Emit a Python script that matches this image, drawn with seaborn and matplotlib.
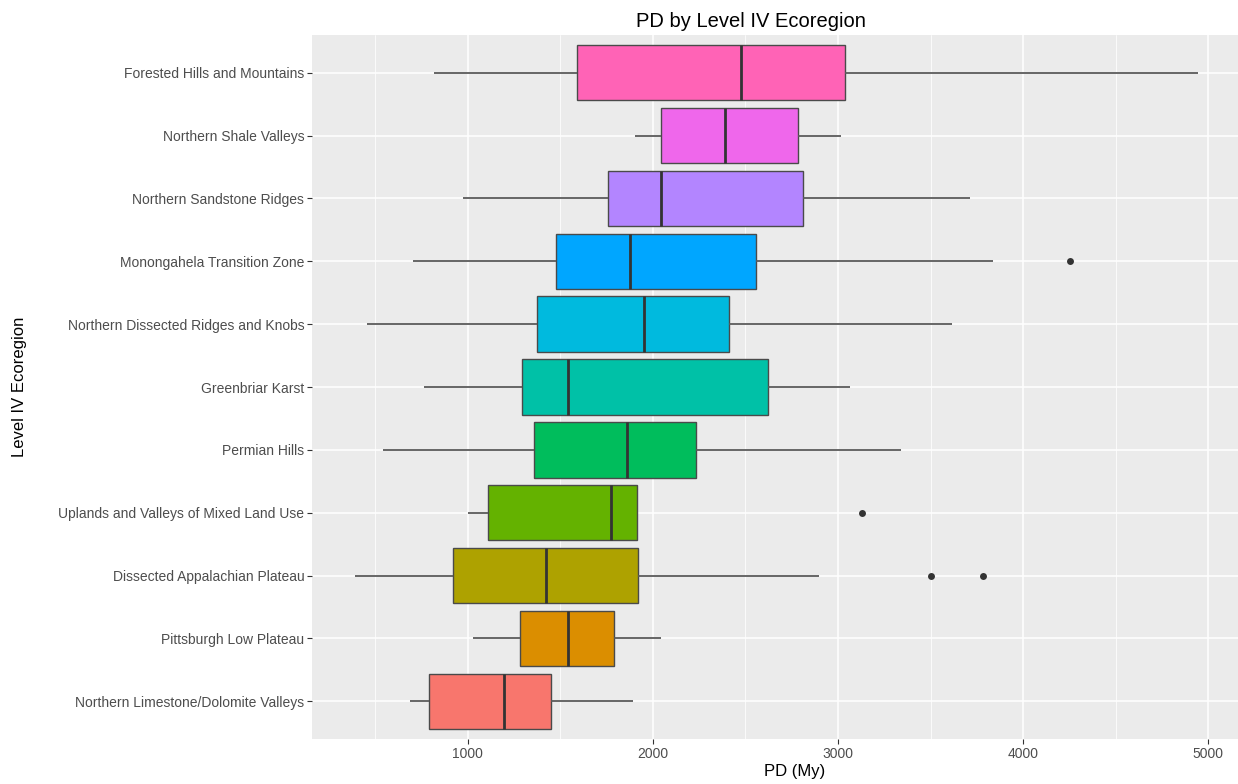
import pandas as pd
import matplotlib.pyplot as plt
import seaborn as sns

# -----------------------------
# Data, top -> bottom
# -----------------------------
regions = [
    "Forested Hills and Mountains",
    "Northern Shale Valleys",
    "Northern Sandstone Ridges",
    "Monongahela Transition Zone",
    "Northern Dissected Ridges and Knobs",
    "Greenbriar Karst",
    "Permian Hills",
    "Uplands and Valleys of Mixed Land Use",
    "Dissected Appalachian Plateau",
    "Pittsburgh Low Plateau",
    "Northern Limestone/Dolomite Valleys",
]
whisk_lo = [817, 1906, 975, 708, 458, 764, 542, 1001, 390, 1029, 689]
q1 = [1590, 2047, 1759, 1475, 1376, 1293, 1360, 1110, 920, 1285, 792]
med = [2478, 2391, 2043, 1879, 1953, 1541, 1863, 1772, 1425, 1541, 1197]
q3 = [3036, 2786, 2809, 2555, 2414, 2622, 2231, 1913, 1921, 1793, 1453]
whisk_hi = [4946, 3016, 3714, 3836, 3616, 3065, 3341, 1913, 2897, 2043, 1891]

out_region = [
    "Monongahela Transition Zone",
    "Uplands and Valleys of Mixed Land Use",
    "Dissected Appalachian Plateau",
    "Dissected Appalachian Plateau",
]
out_value = [4253, 3132, 3501, 3785]

colors = ["#FF63B6", "#EF67EB", "#B385FF", "#00A6FF", "#00BADE", "#00C1A7",
          "#00BD5C", "#64B200", "#AEA200", "#DB8E00", "#F8766D"]

# five-number summary per region as long-form table
rows = []
for i, r in enumerate(regions):
    for v in (whisk_lo[i], q1[i], med[i], q3[i], whisk_hi[i]):
        rows.append({"region": r, "pd": v})
df = pd.DataFrame(rows)
palette = dict(zip(regions, colors))

# -----------------------------
# Theme (ggplot grey look)
# -----------------------------
sns.set_theme(style="darkgrid", rc={
    "axes.facecolor": "#EBEBEB",
    "figure.facecolor": "white",
    "grid.color": "white",
    "axes.edgecolor": "#EBEBEB",
})
plt.rcParams["font.family"] = ["Liberation Sans", "DejaVu Sans"]

fig = plt.figure(figsize=(12.38, 7.84), dpi=100)
ax = fig.add_axes([312 / 1238, 1 - 739 / 784, 1 - 312 / 1238, (739 - 35) / 784])

sns.boxplot(
    data=df, x="pd", y="region", order=regions, hue="region", hue_order=regions,
    palette=palette, legend=False, saturation=1, whis=(0, 100), width=0.88,
    showcaps=False, fliersize=0, ax=ax,
    boxprops={"edgecolor": "#4a4a4a", "linewidth": 1.0},
    whiskerprops={"color": "#5a5a5a", "linewidth": 1.3},
    medianprops={"color": "#333333", "linewidth": 2.0},
)

sns.stripplot(x=out_value, y=out_region, order=regions, jitter=False,
              color="#333333", size=5, ax=ax)

ax.set_xlim(160, 5160)
ax.set_ylim(len(regions) - 0.4, -0.6)
ax.set_xticks([1000, 2000, 3000, 4000, 5000])
ax.set_xticks([500, 1500, 2500, 3500, 4500], minor=True)
ax.grid(True, which="major", color="white", linewidth=1.1)
ax.grid(True, which="minor", axis="x", color="white", linewidth=0.55)
ax.set_axisbelow(True)
for s in ax.spines.values():
    s.set_visible(False)

ax.tick_params(axis="both", which="major", length=3.5, width=0.8, color="#333333",
               labelsize=10, labelcolor="#4D4D4D", pad=2, bottom=True, left=True)
ax.tick_params(axis="x", which="minor", length=0)

ax.set_ylabel("Level IV Ecoregion", fontsize=12, color="black", labelpad=8)
ax.set_xlabel("PD (My)", fontsize=12, color="black", labelpad=3)
ax.xaxis.set_label_coords((795 - 312) / 926, -0.036)
ax.yaxis.set_label_coords(-(312 - 27) / 926, 0.5)
ax.set_title("PD by Level IV Ecoregion", fontsize=14.5, color="black",
             x=(751 - 312) / 926, pad=6)

fig.savefig("out.png", dpi=100)
